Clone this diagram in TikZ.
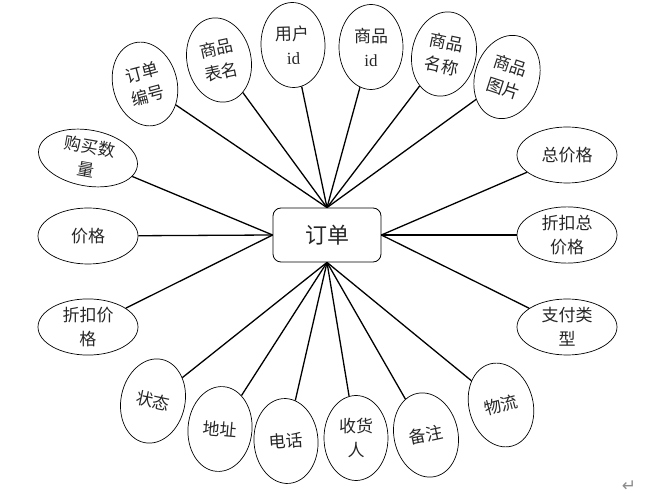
\documentclass[tikz,border=0pt]{standalone}
\usepackage{fontspec}
\setmainfont{Liberation Serif}
\newfontfamily\cjk{Noto Sans CJK SC}
\newfontfamily\symfont{DejaVu Sans}
\usetikzlibrary{shapes.geometric}
\tikzset{
  attr/.style={draw, line width=0.7pt, ellipse, inner sep=0pt, align=center,
    font=\cjk\fontsize{17}{24}\selectfont, text=black!85},
  vattr/.style={attr, minimum width=64pt, minimum height=85pt},
  hattr/.style={attr, minimum width=100pt, minimum height=56pt},
  entity/.style={draw, line width=0.8pt, rounded corners=8pt, minimum width=108pt,
    minimum height=54pt, inner sep=0pt, font=\cjk\fontsize{22}{26}\selectfont, text=black!85},
  link/.style={line width=1.3pt}
}
\begin{document}
\begin{tikzpicture}[x=1pt,y=-1pt]
\useasboundingbox (0,0) rectangle (654,494);
\node[entity] (o) at (327,235) {订单};
% top
\node[vattr, rotate=15]  (a1) at (145,84) {订单\\编号};
\node[vattr, rotate=12]  (a2) at (219,60) {商品\\表名};
\node[vattr, rotate=2]   (a3) at (293,45) {用户\\{\rmfamily id}};
\node[vattr]             (a4) at (371,47) {商品\\{\rmfamily id}};
\node[vattr, rotate=-12] (a5) at (444,54) {商品\\名称};
\node[vattr, rotate=-18] (a6) at (507,77) {商品\\图片};
% left
\node[hattr, rotate=-10] (l1) at (88,158) {购买数\\量};
\node[hattr]             (l2) at (88,236) {价格};
\node[hattr]             (l3) at (88,327) {折扣价\\格};
% right
\node[hattr] (r1) at (567,155) {总价格};
\node[hattr] (r2) at (567,235) {折扣总\\价格};
\node[hattr] (r3) at (567,327) {支付类\\型};
% bottom
\node[vattr, rotate=-12] (b1) at (153,401) {状态};
\node[vattr, rotate=-5]  (b2) at (220,429) {地址};
\node[vattr, rotate=4]   (b3) at (286,441) {电话};
\node[vattr]             (b4) at (356,438) {收货\\人};
\node[vattr, rotate=12]  (b5) at (426,435) {备注};
\node[vattr, rotate=15]  (b6) at (501,405) {物流};
% connectors
\foreach \n in {a1,a2,a3,a4,a5,a6} \draw[link] (\n) -- (o.north);
\foreach \n in {l1,l2,l3} \draw[link] (\n) -- (o.west);
\foreach \n in {r1,r2,r3} \draw[link] (\n) -- (o.east);
\foreach \n in {b1,b2,b3,b4,b5,b6} \draw[link] (\n) -- (o.south);
\node[font=\symfont\fontsize{17}{17}\selectfont, text=black!45, inner sep=0pt] (ret) at (629,486) {↵};
\end{tikzpicture}
\end{document}
